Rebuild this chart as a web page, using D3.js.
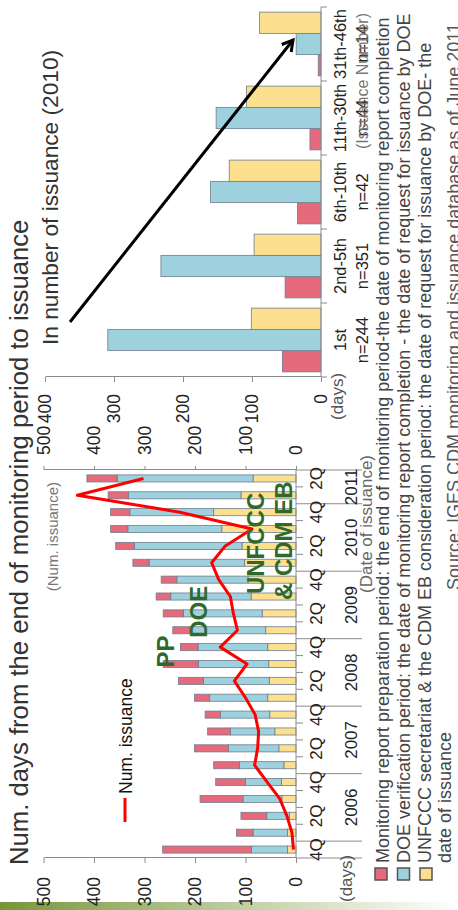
<!DOCTYPE html>
<html>
<head>
<meta charset="utf-8">
<script src="https://cdn.jsdelivr.net/npm/d3@7"></script>
<style>
  html, body { margin: 0; padding: 0; background: #fff; }
  svg { display: block; font-family: "Liberation Sans", Arial, sans-serif; }
</style>
</head>
<body>
<svg id="chart" width="458" height="910"></svg>
<script>
// ---- Quarterly issuance data (days from end of monitoring period to issuance) ----
const quarters = ["4Q05","1Q06","2Q06","3Q06","4Q06","1Q07","2Q07","3Q07","4Q07",
  "1Q08","2Q08","3Q08","4Q08","1Q09","2Q09","3Q09","4Q09","1Q10","2Q10","3Q10","4Q10",
  "1Q11","2Q11"];
const quarterLabels = ["4Q","1Q","2Q","3Q","4Q","1Q","2Q","3Q","4Q","1Q","2Q","3Q","4Q",
  "1Q","2Q","3Q","4Q","1Q","2Q","3Q","4Q","1Q","2Q"];
const quarterYears = ["2005","2006","2006","2006","2006","2007","2007","2007","2007",
  "2008","2008","2008","2008","2009","2009","2009","2009","2010","2010","2010","2010",
  "2011","2011"];
const prepDays = [176, 33, 51, 85, 59, 51, 67, 45, 30, 30, 50, 70, 35, 33, 40, 29, 31, 32, 37, 34, 38, 40, 60];
const doeDays  = [71, 68, 45, 77, 71, 88, 100, 88, 98, 115, 130, 139, 138, 151, 156, 159, 141, 189, 213, 186, 166, 223, 269];
const ebDays   = [17, 17, 13, 28, 29, 24, 34, 42, 52, 56, 53, 54, 56, 60, 67, 89, 95, 102, 107, 147, 163, 109, 85];
const numIssuance = [5, 8, 18, 32, 57, 82, 76, 74, 81, 100, 122, 97, 150, 116, 124, 130, 153, 167, 140, 87, 230, 433, 302];
const leftTicks = [0, 100, 200, 300, 400, 500];

// ---- 2010 issuances grouped by issuance number of the project ----
const issueGroups = ["1st", "2nd-5th", "6th-10th", "11th-30th", "31th-46th"];
const groupCounts = ["n=244", "n=351", "n=42", "n=44", "n=14"];
const groupPrep = [56, 52, 34, 16, 4];
const groupDoe  = [309, 232, 160, 152, 36];
const groupEb   = [101, 97, 133, 108, 89];
const rightTicks = [0, 100, 200, 300, 400];

const seriesNames = [
  "Monitoring report preparation period: the end of monitoring period-the date of monitoring report completion",
  "DOE verification period: the date of monitoring report completion - the date of request for issuance by DOE",
  "UNFCCC secretariat & the CDM EB consideration period: the date of request for issuance by DOE- the"
];
const colors = { prep: "#e46a7c", doe: "#9ed1de", eb: "#fde08f" };
const barStroke = "#6f7d8e";
const axisColor = "#8c8c8c";

// The slide is laid out landscape (910 x 458) and turned a quarter turn.
const W = 910, H = 458;
const svg = d3.select("#chart");
const g = svg.append("g").attr("transform", `translate(0,${W}) rotate(-90)`);

// decorative slide strip
const grad = svg.append("defs").append("linearGradient")
  .attr("id", "strip").attr("x1", 0).attr("y1", 0).attr("x2", 0).attr("y2", 1);
grad.append("stop").attr("offset", "0%").attr("stop-color", "#77963a");
grad.append("stop").attr("offset", "75%").attr("stop-color", "#dfe6d0");
grad.append("stop").attr("offset", "100%").attr("stop-color", "#ffffff");
g.append("rect").attr("x", 0).attr("y", 0).attr("width", 8).attr("height", H).attr("fill", "url(#strip)");

// ---------------- Left chart ----------------
const x = d3.scaleBand().domain(quarters).range([52, 440]).paddingInner(0.58).paddingOuter(0.29);
const y = d3.scaleLinear().domain([0, 500]).range([296, 43.5]);

const rows = quarters.map((q, i) => ({ q, eb: ebDays[i], doe: doeDays[i], prep: prepDays[i] }));
const stack = d3.stack().keys(["eb", "doe", "prep"]);
const layers = stack(rows);

g.append("g").selectAll("g").data(layers).join("g")
  .attr("fill", d => colors[d.key])
  .selectAll("rect").data(d => d).join("rect")
  .attr("x", d => x(d.data.q))
  .attr("width", x.bandwidth())
  .attr("y", d => y(d[1]))
  .attr("height", d => y(d[0]) - y(d[1]))
  .attr("stroke", barStroke).attr("stroke-width", 0.8);

function styleAxis(sel, fs) {
  sel.select(".domain").attr("stroke", axisColor);
  sel.selectAll(".tick line").attr("stroke", axisColor);
  sel.selectAll(".tick text").attr("fill", "#222").attr("font-size", fs)
    .attr("font-family", "'Liberation Sans', Arial, sans-serif");
}

g.append("g").attr("transform", "translate(52,0)")
  .call(d3.axisLeft(y).tickValues(leftTicks).tickSize(5).tickSizeOuter(0).tickPadding(14))
  .call(s => styleAxis(s, 17.5));
g.append("g").attr("transform", "translate(440,0)")
  .call(d3.axisRight(y).tickValues(leftTicks).tickSize(4).tickSizeOuter(0).tickPadding(11))
  .call(s => styleAxis(s, 17.5));

// category axis with quarter labels and year groups
const catAxis = g.append("g");
catAxis.append("line").attr("x1", 52).attr("x2", 440).attr("y1", 296).attr("y2", 296).attr("stroke", axisColor);
const bounds = d3.range(quarters.length + 1).map(i => 52 + i * x.step());
catAxis.selectAll("line.qt").data(bounds).join("line").attr("class", "qt")
  .attr("x1", d => d).attr("x2", d => d)
  .attr("y1", 296).attr("y2", (d, i) => (i === 0 || i === quarters.length || quarterYears[i] !== quarterYears[i - 1]) ? 362 : 303)
  .attr("stroke", axisColor);
catAxis.selectAll("text.ql").data(quarters.filter((q, i) => i % 2 === 0)).join("text").attr("class", "ql")
  .attr("x", d => x(d) + x.bandwidth() / 2).attr("y", 322)
  .attr("text-anchor", "middle").attr("font-size", 17).attr("fill", "#222")
  .text(d => quarterLabels[quarters.indexOf(d)]);
const years = Array.from(new Set(quarterYears)).filter(yr => yr !== "2005");
catAxis.selectAll("text.yl").data(years).join("text").attr("class", "yl")
  .attr("x", yr => {
    const qs = quarters.filter((q, i) => quarterYears[i] === yr);
    return (x(qs[0]) + x(qs[qs.length - 1]) + x.bandwidth()) / 2;
  })
  .attr("y", 357).attr("text-anchor", "middle").attr("font-size", 17).attr("fill", "#222")
  .text(d => d);

// number of issuances (right axis, same 0-500 range)
const line = d3.line().x((d, i) => x(quarters[i]) + x.bandwidth() / 2).y(d => y(d));
g.append("path").datum(numIssuance).attr("d", line)
  .attr("fill", "none").attr("stroke", "#ff0000").attr("stroke-width", 3).attr("stroke-linejoin", "round");

// phase annotations
const phase = g.append("g").attr("fill", "#2f6a2c").attr("font-weight", "bold").attr("font-size", 24);
phase.append("text").attr("x", x("3Q08")).attr("y", 174).text("PP");
phase.append("text").attr("x", x("1Q09") - 4).attr("y", 207).text("DOE");
phase.append("text").attr("x", x("3Q09") + 6).attr("y", 264).text("UNFCCC");
phase.append("text").attr("x", x("3Q09")).attr("y", 292).text("& CDM EB");

// legend for the line
g.append("line").attr("x1", 88).attr("x2", 112).attr("y1", 125).attr("y2", 125)
  .attr("stroke", "#ff0000").attr("stroke-width", 3);
g.append("text").attr("x", 116).attr("y", 132).attr("font-size", 17.5).attr("fill", "#111").text("Num. issuance");

g.append("text").attr("x", 428).attr("y", 58).attr("text-anchor", "end")
  .attr("font-size", 15).attr("fill", "#777").text("(Num. issuance)");
g.append("text").attr("x", 8).attr("y", 352).attr("font-size", 17).attr("fill", "#555").text("(days)");
g.append("text").attr("x", 455).attr("y", 372).attr("text-anchor", "end")
  .attr("font-size", 17).attr("fill", "#666").text("(Date of issuance)");

// title
g.append("text").attr("x", 45).attr("y", 28).attr("font-size", 25.7).attr("fill", "#333")
  .text("Num. days from the end of monitoring period to issuance");

// ---------------- Right chart ----------------
const xr = d3.scaleBand().domain(issueGroups).range([533, 903]);
const xs = d3.scaleBand().domain(["prep", "doe", "eb"]).range([0, xr.bandwidth()]).paddingInner(0).paddingOuter(0.24);
const yr = d3.scaleLinear().domain([0, 400]).range([321, 45]);
const groupRows = issueGroups.map((k, i) => ({ k, prep: groupPrep[i], doe: groupDoe[i], eb: groupEb[i] }));

g.append("g").selectAll("g").data(groupRows).join("g")
  .attr("transform", d => `translate(${xr(d.k)},0)`)
  .selectAll("rect").data(d => ["prep", "doe", "eb"].map(key => ({ key, v: d[key] }))).join("rect")
  .attr("x", d => xs(d.key)).attr("width", xs.bandwidth())
  .attr("y", d => yr(d.v)).attr("height", d => yr(0) - yr(d.v))
  .attr("fill", d => colors[d.key]).attr("stroke", barStroke).attr("stroke-width", 0.8);

g.append("g").attr("transform", "translate(533,0)")
  .call(d3.axisLeft(yr).tickValues(rightTicks).tickSize(5).tickSizeOuter(0).tickPadding(12))
  .call(s => styleAxis(s, 17.5));
const catR = g.append("g");
catR.append("line").attr("x1", 533).attr("x2", 903).attr("y1", 321).attr("y2", 321).attr("stroke", axisColor);
catR.selectAll("line.t").data(d3.range(issueGroups.length + 1).map(i => 533 + i * xr.step())).join("line")
  .attr("class", "t").attr("x1", d => d).attr("x2", d => d).attr("y1", 321).attr("y2", 327).attr("stroke", axisColor);
catR.selectAll("text.g1").data(issueGroups).join("text").attr("class", "g1")
  .attr("x", d => xr(d) + xr.bandwidth() / 2).attr("y", 346).attr("text-anchor", "middle")
  .attr("font-size", 16.5).attr("fill", "#222").text(d => d);
catR.selectAll("text.g2").data(issueGroups).join("text").attr("class", "g2")
  .attr("x", d => xr(d) + xr.bandwidth() / 2).attr("y", 368).attr("text-anchor", "middle")
  .attr("font-size", 16.5).attr("fill", "#222").text((d, i) => groupCounts[i]);
g.append("text").attr("x", 490).attr("y", 343).attr("font-size", 17).attr("fill", "#555").text("(days)");
g.append("text").attr("x", 897).attr("y", 368).attr("text-anchor", "end")
  .attr("font-size", 16).attr("fill", "#777").text("(Issuance Number)");
g.append("text").attr("x", 565).attr("y", 58).attr("font-size", 22.7).attr("fill", "#333")
  .text("In number of issuance (2010)");

// trend arrow
const arrow = svg.select("defs").append("marker").attr("id", "head")
  .attr("viewBox", "0 0 10 10").attr("refX", 8).attr("refY", 5)
  .attr("markerWidth", 5).attr("markerHeight", 5).attr("orient", "auto");
arrow.append("path").attr("d", "M1,1 L8,5 L1,9").attr("fill", "none").attr("stroke", "#000").attr("stroke-width", 2);
g.append("line").attr("x1", 588).attr("y1", 70).attr("x2", 870).attr("y2", 293)
  .attr("stroke", "#000").attr("stroke-width", 3).attr("marker-end", "url(#head)");

// ---------------- Legend & source ----------------
const legendKeys = ["prep", "doe", "eb"];
const lg = g.append("g");
lg.selectAll("rect").data(legendKeys).join("rect")
  .attr("x", 30).attr("y", (d, i) => 375 + i * 22.5).attr("width", 12).attr("height", 12)
  .attr("fill", d => colors[d]).attr("stroke", "#555").attr("stroke-width", 1.5);
lg.selectAll("text").data(seriesNames).join("text")
  .attr("x", 47).attr("y", (d, i) => 389 + i * 21).attr("font-size", 18).attr("fill", "#444").text(d => d);
lg.append("text").attr("x", 47).attr("y", 451).attr("font-size", 18).attr("fill", "#444").text("date of issuance");
g.append("text").attr("x", 320).attr("y", 460).attr("font-size", 18).attr("fill", "#555")
  .text("Source: IGES CDM monitoring and issuance database as of  June 2011");
</script>
</body>
</html>
